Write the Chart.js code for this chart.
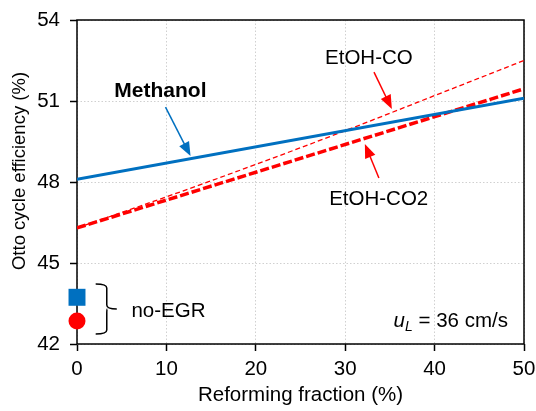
<!DOCTYPE html>
<html><head><meta charset="utf-8">
<script src="https://cdn.jsdelivr.net/npm/chart.js@4/dist/chart.umd.min.js"></script>
<style>html,body{margin:0;padding:0;background:#fff}#wrap{width:536px;height:411px}</style>
</head><body><div id="wrap"><canvas id="c" width="536" height="411"></canvas></div>
<script>
// ---- data ----
const fractions = [0, 50];
const methanol = [48.1, 51.1];
const etohCO2 = [46.3, 51.45];
const fractionsCO = [0, 10, 20, 30, 40, 50];
const etohCO = [46.3, 47.45, 48.65, 49.9, 51.2, 52.5];
const noEgrX = [0];
const noEgrMethanol = [43.73];
const noEgrEtOH = [42.85];
const xTicks = [0, 10, 20, 30, 40, 50];
const yTicks = [42, 45, 48, 51, 54];

const FONT = "'Liberation Sans', Arial, Helvetica, sans-serif";
const BLUE = '#0070C0';
const RED = '#FF0000';

// annotation placement in data units
const notes = {
  methanol: {text: 'Methanol', x: 9.33, y: 51.14, arrow: [9.9, 50.77, 12.7, 48.96]},
  co: {text: 'EtOH-CO', x: 32.65, y: 52.37, arrow: [33.22, 52.07, 35.22, 50.70]},
  co2: {text: 'EtOH-CO2', x: 33.75, y: 47.15, arrow: [33.77, 48.15, 32.2, 49.41]},
  noEgr: {text: 'no-EGR', x: 6.09, y: 43.01, brace: [2.09, 3.33, 4.45, 44.22, 43.3, 42.37]},
  ul: {x: 48.2, y: 42.64}
};

const pts = (xs, ys) => xs.map((v, i) => ({x: v, y: ys[i]}));

function arrow(ctx, x1, y1, x2, y2, color, lw, hl, hw) {
  const a = Math.atan2(y2 - y1, x2 - x1);
  ctx.strokeStyle = color; ctx.lineWidth = lw;
  ctx.beginPath(); ctx.moveTo(x1, y1);
  ctx.lineTo(x2 - Math.cos(a) * hl * 0.8, y2 - Math.sin(a) * hl * 0.8); ctx.stroke();
  ctx.fillStyle = color; ctx.beginPath(); ctx.moveTo(x2, y2);
  ctx.lineTo(x2 - hl * Math.cos(a) + hw * Math.sin(a), y2 - hl * Math.sin(a) - hw * Math.cos(a));
  ctx.lineTo(x2 - hl * Math.cos(a) - hw * Math.sin(a), y2 - hl * Math.sin(a) + hw * Math.cos(a));
  ctx.closePath(); ctx.fill();
}

const framePlugin = {
  id: 'frame',
  beforeDatasetsDraw(chart) {
    const {ctx, chartArea: ca} = chart;
    ctx.save();
    ctx.strokeStyle = '#000'; ctx.lineWidth = 1.5;
    ctx.strokeRect(ca.left, ca.top, ca.right - ca.left, ca.bottom - ca.top);
    ctx.restore();
  }
};

const annotPlugin = {
  id: 'annot',
  afterDatasetsDraw(chart) {
    const {ctx, scales: {x, y}, chartArea: ca} = chart;
    const X = v => x.getPixelForValue(v), Y = v => y.getPixelForValue(v);
    ctx.save();
    ctx.textBaseline = 'alphabetic';
    // Methanol
    let n = notes.methanol;
    ctx.font = 'bold 21px ' + FONT; ctx.fillStyle = '#000'; ctx.textAlign = 'center';
    ctx.fillText(n.text, X(n.x), Y(n.y));
    arrow(ctx, X(n.arrow[0]), Y(n.arrow[1]), X(n.arrow[2]), Y(n.arrow[3]), BLUE, 1.5, 14, 5.5);
    // EtOH-CO
    ctx.font = '20.5px ' + FONT; ctx.fillStyle = '#000';
    n = notes.co;
    ctx.fillText(n.text, X(n.x), Y(n.y));
    arrow(ctx, X(n.arrow[0]), Y(n.arrow[1]), X(n.arrow[2]), Y(n.arrow[3]), RED, 1.5, 14, 5.5);
    ctx.fillStyle = '#000';
    n = notes.co2;
    ctx.fillText(n.text, X(n.x), Y(n.y));
    arrow(ctx, X(n.arrow[0]), Y(n.arrow[1]), X(n.arrow[2]), Y(n.arrow[3]), RED, 1.5, 14, 5.5);
    // brace
    n = notes.noEgr;
    const [bl, bm, bt, byt, bym, byb] = n.brace;
    const xl = X(bl), xm = X(bm), xt = X(bt), yt = Y(byt), ym = Y(bym), yb = Y(byb);
    ctx.strokeStyle = '#000'; ctx.lineWidth = 1.5;
    ctx.beginPath();
    ctx.moveTo(xl, yt);
    ctx.quadraticCurveTo(xm, yt, xm, yt + 4);
    ctx.lineTo(xm, ym - 4);
    ctx.quadraticCurveTo(xm, ym, xt, ym);
    ctx.moveTo(xm + 0.5, ym);
    ctx.quadraticCurveTo(xm, ym, xm, ym + 4);
    ctx.lineTo(xm, yb - 4);
    ctx.quadraticCurveTo(xm, yb, xl, yb);
    ctx.stroke();
    ctx.fillStyle = '#000'; ctx.textAlign = 'left'; ctx.font = '20.5px ' + FONT;
    ctx.fillText(n.text, X(n.x), Y(n.y));
    // u_L = 36 cm/s
    n = notes.ul;
    const fMain = '20.5px ' + FONT, fIt = 'italic 20.5px ' + FONT, fSub = 'italic 14px ' + FONT;
    const rest = ' = 36 cm/s';
    ctx.font = fMain; const wRest = ctx.measureText(rest).width;
    ctx.font = fSub; const wSub = ctx.measureText('L').width;
    ctx.font = fIt; const wU = ctx.measureText('u').width;
    let px = X(n.x) - wRest - wSub - wU, py = Y(n.y);
    ctx.textAlign = 'left';
    ctx.font = fIt; ctx.fillText('u', px, py); px += wU;
    ctx.font = fSub; ctx.fillText('L', px, py + 4); px += wSub;
    ctx.font = fMain; ctx.fillText(rest, px, py);
    // y axis title
    ctx.save();
    ctx.translate(20, (ca.top + ca.bottom) / 2 - 11);
    ctx.rotate(-Math.PI / 2);
    ctx.textAlign = 'center'; ctx.textBaseline = 'middle';
    ctx.font = '18.5px ' + FONT; ctx.fillStyle = '#000';
    ctx.fillText('Otto cycle efficiency (%)', 0, 0);
    ctx.restore();
    ctx.restore();
  }
};

new Chart(document.getElementById('c'), {
  type: 'scatter',
  data: {
    datasets: [
      {label: 'no-EGR Methanol', data: pts(noEgrX, noEgrMethanol), pointStyle: 'rect', pointRadius: 12,
       backgroundColor: BLUE, borderColor: BLUE, borderWidth: 0, showLine: false, clip: false, order: 0},
      {label: 'no-EGR EtOH', data: pts(noEgrX, noEgrEtOH), pointStyle: 'circle', pointRadius: 8.5,
       backgroundColor: RED, borderColor: RED, borderWidth: 0, showLine: false, clip: false, order: 0},
      {label: 'Methanol', data: pts(fractions, methanol), showLine: true, borderColor: BLUE, borderWidth: 3,
       pointRadius: 0, order: 1},
      {label: 'EtOH-CO2', data: pts(fractions, etohCO2), showLine: true, borderColor: RED, borderWidth: 3.5,
       borderDash: [9, 3], pointRadius: 0, order: 2},
      {label: 'EtOH-CO', data: pts(fractionsCO, etohCO), showLine: true, borderColor: RED, borderWidth: 1.3,
       borderDash: [5, 3], pointRadius: 0, cubicInterpolationMode: 'monotone', order: 3}
    ]
  },
  options: {
    responsive: false, animation: false, devicePixelRatio: 1,
    layout: {padding: {left: 0, right: 12, top: 20, bottom: 0}},
    plugins: {legend: {display: false}, tooltip: {enabled: false}},
    scales: {
      x: {
        type: 'linear', min: 0, max: 50,
        afterBuildTicks: s => { s.ticks = xTicks.map(v => ({value: v})); },
        afterFit: s => { s.height = 67; s.paddingLeft = 0; s.paddingRight = 0; },
        grid: {color: '#d0d0d0', lineWidth: 1, tickColor: '#000', tickWidth: 1.5, tickLength: 7, tickBorderDash: []},
        border: {display: false, dash: [1.5, 2]},
        ticks: {color: '#000', font: {family: FONT, size: 20.5}, padding: 6, maxRotation: 0},
        title: {display: true, text: 'Reforming fraction (%)', color: '#000', font: {family: FONT, size: 20.5}, padding: {top: 0, bottom: 3}}
      },
      y: {
        type: 'linear', min: 42, max: 54,
        afterBuildTicks: s => { s.ticks = yTicks.map(v => ({value: v})); },
        afterFit: s => { s.width = 77; s.paddingTop = 0; s.paddingBottom = 0; },
        grid: {color: '#d0d0d0', lineWidth: 1, tickColor: '#000', tickWidth: 1.5, tickLength: 7, tickBorderDash: []},
        border: {display: false, dash: [1.5, 2]},
        ticks: {color: '#000', font: {family: FONT, size: 20.5}, padding: 10}
      }
    }
  },
  plugins: [framePlugin, annotPlugin]
});
</script></body></html>
